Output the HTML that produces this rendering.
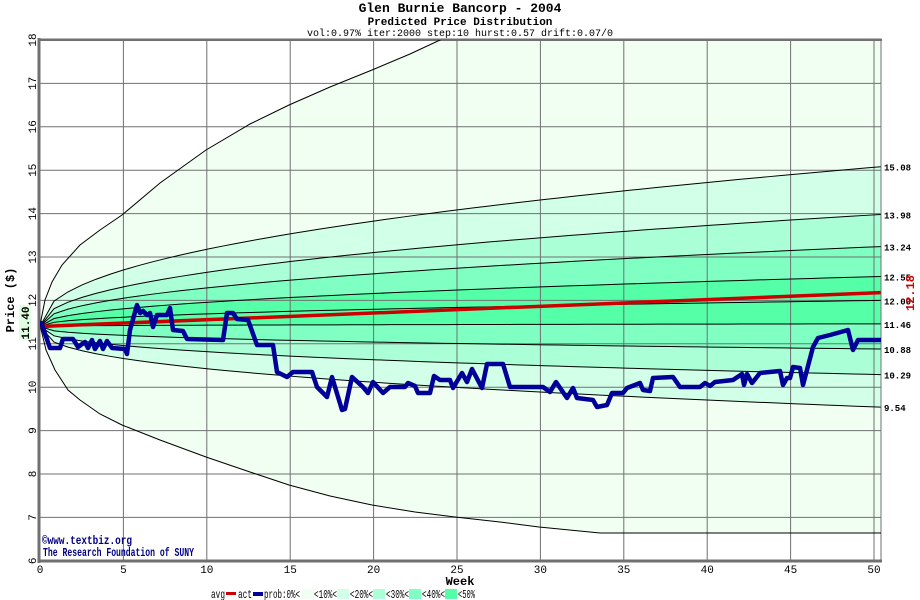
<!DOCTYPE html>
<html><head><meta charset="utf-8">
<style>
html,body{margin:0;padding:0;background:#fff;}
svg{display:block;font-family:"Liberation Mono","DejaVu Sans Mono",monospace;}
</style></head>
<body>
<svg id="s" width="920" height="600" xmlns="http://www.w3.org/2000/svg">
<defs><clipPath id="c"><rect x="40" y="40" width="841" height="521"/></clipPath></defs>
<rect width="920" height="600" fill="#fff"/>
<g id="bands" clip-path="url(#c)"></g>
<g id="grid"></g>
<g id="lines" clip-path="url(#c)"></g>
<text x="460" y="12" text-anchor="middle" font-size="13" font-weight="bold">Glen Burnie Bancorp - 2004</text>
<text x="460" y="25" text-anchor="middle" font-size="11" font-weight="bold">Predicted Price Distribution</text>
<text x="460" y="36" text-anchor="middle" font-size="10">vol:0.97% iter:2000 step:10 hurst:0.57 drift:0.07/0</text>
<text transform="translate(14,300) rotate(-90)" text-anchor="middle" font-size="12" font-weight="bold">Price ($)</text>
<rect x="19" y="305" width="12" height="35" fill="#e0ffe0"/>
<text transform="translate(29,323) rotate(-90)" text-anchor="middle" font-size="11" font-weight="bold">11.40</text>
<text transform="translate(914,293) rotate(-90)" text-anchor="middle" font-size="12" font-weight="bold" fill="#cc0000">12.18</text>
<text x="460" y="585" text-anchor="middle" font-size="12" font-weight="bold">Week</text>
<text x="42" y="544" font-size="12" font-weight="bold" fill="#000080" textLength="90" lengthAdjust="spacingAndGlyphs">©www.textbiz.org</text>
<text x="43" y="556" font-size="12" font-weight="bold" fill="#000080" textLength="151" lengthAdjust="spacingAndGlyphs">The Research Foundation of SUNY</text>
<g font-size="12">
<text x="211" y="598" textLength="14" lengthAdjust="spacingAndGlyphs">avg</text><rect x="226" y="592" width="10" height="3" fill="#cc0000"/>
<text x="238" y="598" textLength="14" lengthAdjust="spacingAndGlyphs">act</text><rect x="253" y="592" width="10" height="4" fill="#000099"/>
<text x="264" y="598" textLength="36" lengthAdjust="spacingAndGlyphs">prob:0%&lt;</text><rect x="302" y="589" width="12" height="10" fill="#f0fff2"/>
<text x="314" y="598" textLength="23" lengthAdjust="spacingAndGlyphs">&lt;10%&lt;</text><rect x="337" y="589" width="12" height="10" fill="#d2ffe8"/>
<text x="350" y="598" textLength="23" lengthAdjust="spacingAndGlyphs">&lt;20%&lt;</text><rect x="373" y="589" width="12" height="10" fill="#aaffd6"/>
<text x="386" y="598" textLength="23" lengthAdjust="spacingAndGlyphs">&lt;30%&lt;</text><rect x="409" y="589" width="12" height="10" fill="#80ffc2"/>
<text x="422" y="598" textLength="23" lengthAdjust="spacingAndGlyphs">&lt;40%&lt;</text><rect x="445" y="589" width="12" height="10" fill="#55ffa8"/>
<text x="458" y="598" textLength="17" lengthAdjust="spacingAndGlyphs">&lt;50%</text>
</g>
</svg>
<script>
var NS="http://www.w3.org/2000/svg";
function X(w){return 40+w*16.68;}
function Y(v){return 40+(18-v)*43.4;}
function el(p,t,a){var e=document.createElementNS(NS,t);for(var k in a)e.setAttribute(k,a[k]);document.getElementById(p).appendChild(e);return e;}
var W=50.4;
function curve(end,p){var pts=[];for(var i=0;i<=60;i++){var t=W*i/60;pts.push([X(t),Y(11.4+(end-11.4)*Math.pow(t/W,p))]);}return pts;}
var upOuter=[[40,325],[45,300],[52,282],[62,265],[80,245],[100,230],[122,215],[160,183],[206,150],[250,124],[289,105],[330,87],[372,70],[410,54],[440,40],[470,25]];
var loOuter=[[40,325],[46,350],[55,370],[68,390],[80,400],[100,414],[122,425],[160,440],[206,457],[250,472],[289,485],[330,496],[372,505],[415,512],[455,517],[500,522],[539,527],[600,533],[881,533]];
var ends=[15.08,13.98,13.24,12.55,12.00,11.46,10.88,10.29,9.54];
var Cs=ends.map(function(e){return curve(e,e>11.4?0.45:0.4);});
function poly(a,b,fill){var pts=a.concat(b.slice().reverse());el("bands","polygon",{points:pts.map(function(p){return p[0]+","+p[1]}).join(" "),fill:fill});}
poly(upOuter.concat([[881,20]]),loOuter,"#f0fff2");
poly(Cs[0],Cs[8],"#d2ffe8");
poly(Cs[1],Cs[7],"#aaffd6");
poly(Cs[2],Cs[6],"#80ffc2");
poly(Cs[3],Cs[5],"#55ffa8");
for(var v=6;v<=18;v++){var y=Y(v);el("grid","line",{x1:40,x2:881,y1:y,y2:y,stroke:"#707070","stroke-width":1});
 var t=el("grid","text",{transform:"translate(36,"+y+") rotate(-90)","text-anchor":"middle","font-size":"11"});t.textContent=v;}
for(var w=0;w<=50;w+=5){var x=X(w);el("grid","line",{x1:x,x2:x,y1:40,y2:561,stroke:"#707070","stroke-width":1});
 var t=el("grid","text",{x:x,y:573,"text-anchor":"middle","font-size":"11"});t.textContent=w;}
el("grid","rect",{x:39,y:39,width:842,height:522,fill:"none",stroke:"#707070","stroke-width":1});
el("grid","line",{x1:39,x2:39,y1:38,y2:563,stroke:"#707070","stroke-width":3});
el("grid","line",{x1:38,x2:882,y1:561,y2:561,stroke:"#707070","stroke-width":3});
el("grid","line",{x1:38,x2:882,y1:40,y2:40,stroke:"#707070","stroke-width":2});
function pl(pts,attrs){attrs.points=pts.map(function(p){return p[0]+","+p[1]}).join(" ");attrs.fill="none";el("lines","polyline",attrs);}
pl(upOuter,{stroke:"#000","stroke-width":1});
pl(loOuter,{stroke:"#000","stroke-width":1});
Cs.forEach(function(c){pl(c,{stroke:"#000","stroke-width":1});});
ends.forEach(function(e){var t=el("grid","text",{x:884,y:Y(e)+4,"font-size":"9","font-weight":"bold"});t.textContent=e.toFixed(2);});
pl([[X(0),Y(11.4)],[X(W),Y(12.18)]],{stroke:"#cc0000","stroke-width":3.5});
var act=[[40,322],[42,325],[50,348],[60,348],[63,339],[73,339],[78,347],[85,342],[88,348],[92,340],[95,349],[100,341],[103,349],[107,341],[112,348],[125,349],[127,354],[130,330],[137,305],[140,313],[143,311],[147,315],[150,313],[153,327],[157,315],[167,315],[170,308],[173,330],[183,331],[187,339],[223,340],[227,313],[233,313],[237,319],[248,320],[257,345],[273,345],[277,372],[287,377],[293,372],[312,372],[317,387],[327,397],[332,377],[342,410],[345,409],[352,377],[363,387],[368,393],[373,382],[383,393],[390,387],[405,387],[408,383],[415,386],[418,393],[430,393],[434,376],[440,380],[450,380],[453,388],[462,373],[467,382],[472,369],[482,388],[487,364],[503,364],[510,387],[543,387],[550,392],[556,382],[567,398],[573,388],[577,398],[593,400],[597,407],[607,405],[612,393],[623,393],[627,388],[640,383],[643,390],[650,391],[653,378],[673,377],[680,387],[700,387],[705,383],[710,386],[715,382],[733,380],[742,374],[744,385],[747,374],[752,383],[760,373],[780,371],[783,385],[787,378],[790,378],[793,367],[800,368],[803,385],[813,347],[818,338],[830,335],[848,330],[853,350],[858,340],[881,340]];
pl(act,{stroke:"#000099","stroke-width":4.5,"stroke-linejoin":"round"});
</script>
</body></html>
